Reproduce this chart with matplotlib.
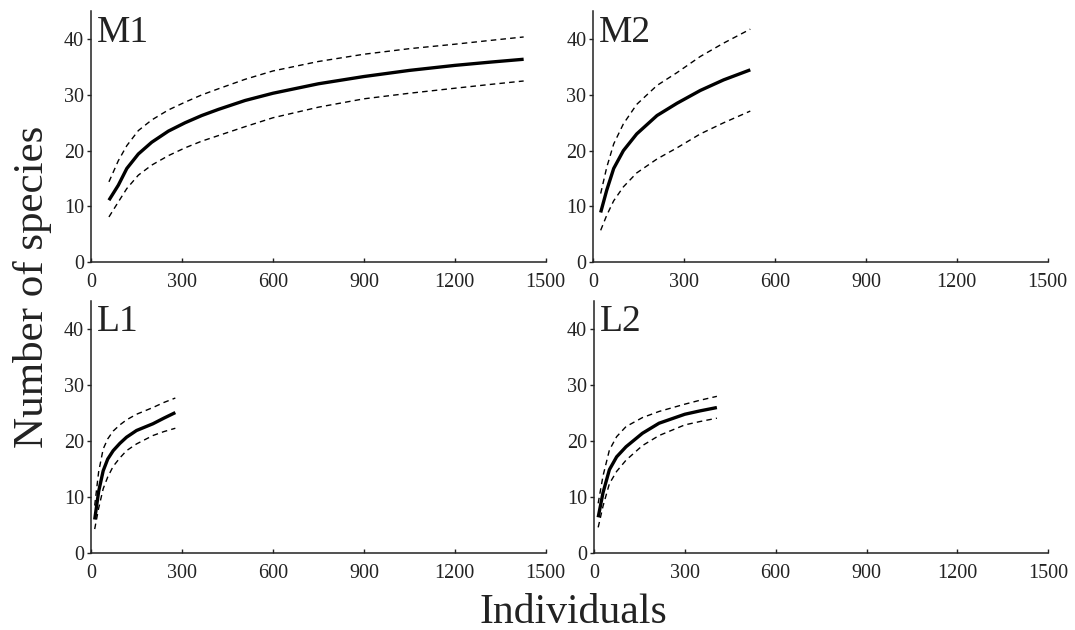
import matplotlib
matplotlib.use("Agg")
import matplotlib.pyplot as plt

plt.rcParams["font.family"] = ["Liberation Serif", "DejaVu Serif"]

# rarefaction curves (individuals, species)
m1_x = [59, 90, 118, 156, 200, 255, 310, 365, 420, 508, 600, 750, 900, 1050, 1200, 1320, 1427]
m1_mean = [11.1, 13.8, 16.8, 19.4, 21.5, 23.5, 25.0, 26.3, 27.4, 29.0, 30.3, 32.0, 33.3, 34.4, 35.3, 35.9, 36.4]
m1_upper = [14.4, 18.2, 20.9, 23.6, 25.5, 27.3, 28.7, 30.0, 31.1, 32.8, 34.3, 36.0, 37.3, 38.3, 39.1, 39.8, 40.4]
m1_lower = [8.1, 10.8, 13.2, 15.6, 17.4, 19.1, 20.5, 21.7, 22.7, 24.3, 25.9, 27.8, 29.3, 30.3, 31.2, 31.9, 32.5]

m2_x = [24, 44, 67, 99, 143, 210, 276, 353, 430, 518]
m2_mean = [8.9, 12.9, 16.8, 20.0, 23.0, 26.3, 28.5, 30.8, 32.7, 34.5]
m2_upper = [12.3, 17.0, 21.2, 24.8, 28.3, 31.7, 34.0, 36.9, 39.3, 41.8]
m2_lower = [5.7, 8.4, 11.0, 13.5, 16.0, 18.5, 20.5, 23.0, 25.0, 27.1]

l1_x = [12, 25, 40, 55, 73, 95, 117, 150, 204, 240, 278]
l1_mean = [6.0, 11.0, 14.7, 16.8, 18.3, 19.6, 20.7, 21.9, 23.1, 24.1, 25.1]
l1_upper = [8.5, 14.5, 18.6, 20.4, 21.8, 22.9, 23.8, 24.8, 26.0, 26.9, 27.7]
l1_lower = [4.3, 8.0, 11.5, 13.6, 15.5, 17.0, 18.3, 19.5, 21.0, 21.7, 22.3]

l2_x = [14, 30, 51, 75, 106, 160, 215, 300, 350, 406]
l2_mean = [6.4, 10.8, 14.9, 17.2, 19.0, 21.4, 23.2, 24.8, 25.4, 26.0]
l2_upper = [8.9, 13.8, 18.4, 20.8, 22.6, 24.2, 25.3, 26.6, 27.3, 28.0]
l2_lower = [4.6, 8.4, 12.4, 14.6, 16.6, 19.2, 21.0, 22.9, 23.5, 24.1]

panels = [
    ("M1", m1_x, m1_mean, m1_upper, m1_lower),
    ("M2", m2_x, m2_mean, m2_upper, m2_lower),
    ("L1", l1_x, l1_mean, l1_upper, l1_lower),
    ("L2", l2_x, l2_mean, l2_upper, l2_lower),
]

x_ticks = [0, 300, 600, 900, 1200, 1500]
y_ticks = [0, 10, 20, 30, 40]
ink = "#222222"

fig = plt.figure(figsize=(10.75, 6.3), dpi=100)
rects = [
    [0.0847, 0.584, 0.423, 0.398],
    [0.552, 0.584, 0.4226, 0.398],
    [0.0847, 0.122, 0.423, 0.400],
    [0.5525, 0.122, 0.4226, 0.400],
]

for rect, (name, xs, mean, upper, lower) in zip(rects, panels):
    ax = fig.add_axes(rect)
    ax.plot(xs, mean, color="black", lw=2.4, solid_capstyle="butt",
            solid_joinstyle="round")
    ax.plot(xs, upper, color="black", lw=1.0, dashes=(4, 3))
    ax.plot(xs, lower, color="black", lw=1.0, dashes=(4, 3))
    ax.set_xlim(0, 1500)
    ax.set_ylim(0, 45)
    ax.set_xticks(x_ticks)
    ax.set_yticks(y_ticks)
    ax.tick_params(labelsize=14.5, colors=ink, width=1)
    ax.tick_params(axis="x", direction="in", length=3, pad=8)
    ax.tick_params(axis="y", direction="out", length=3, pad=2)
    for side in ("top", "right"):
        ax.spines[side].set_visible(False)
    for side in ("left", "bottom"):
        ax.spines[side].set_linewidth(1.1)
        ax.spines[side].set_color(ink)
    ax.text(0.012, 0.985, name, transform=ax.transAxes, fontsize=27,
            va="top", ha="left", color=ink)

fig.text(0.533, 0.011, "Individuals", ha="center", va="baseline",
         fontsize=30, color=ink)
fig.text(0.012, 0.544, "Number of species", rotation=90, ha="left",
         va="center", fontsize=31, color=ink)

fig.savefig("out.png", dpi=100)
